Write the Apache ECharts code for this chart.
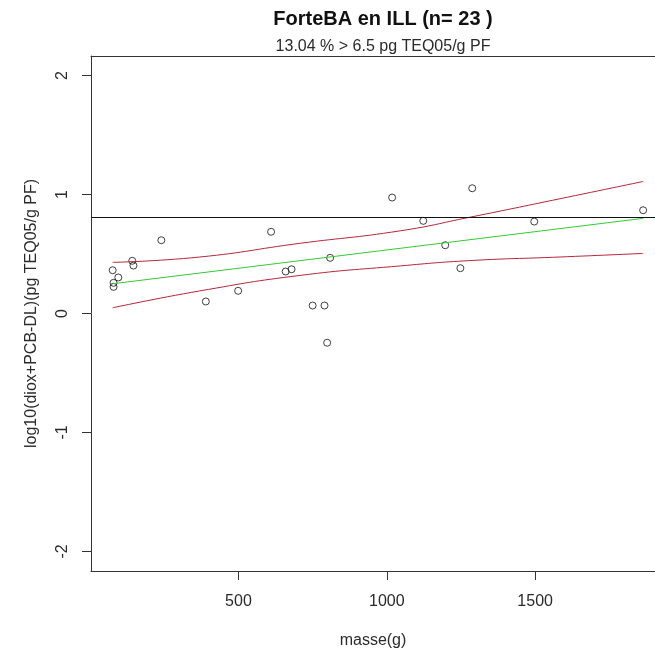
<!DOCTYPE html>
<html>
<head>
<meta charset="utf-8">
<title>ForteBA en ILL</title>
<script src="https://cdn.jsdelivr.net/npm/echarts@6/dist/echarts.min.js"></script>
<style>
  html, body { margin: 0; padding: 0; background: #fff; }
  #chart { width: 655px; height: 657px; }
</style>
</head>
<body>
<div id="chart"></div>
<script>
// observations : masse (g) et log10 de la teneur
var masse = [76, 79, 79, 95, 142, 146, 240, 390, 499, 610, 659, 679, 750, 790, 799, 809, 1018, 1123, 1197, 1248, 1288, 1497, 1864];
var logVal = [0.364, 0.258, 0.224, 0.303, 0.443, 0.403, 0.616, 0.101, 0.191, 0.687, 0.353, 0.372, 0.067, 0.067, -0.246, 0.468, 0.975, 0.779, 0.574, 0.381, 1.053, 0.773, 0.868];

// droite de regression
var fitX = [76, 1864];
var fitY = [0.25, 0.80];

// bandes de confiance
var bandX = [76, 370, 707, 1045, 1281, 1584, 1864];
var bandHaut = [0.43, 0.475, 0.59, 0.695, 0.81, 0.965, 1.11];
var bandBas = [0.048, 0.19, 0.32, 0.40, 0.445, 0.475, 0.505];

var seuil = 0.813; // log10(6.5)

var xTicks = [500, 1000, 1500];
var yTicks = [-2, -1, 0, 1, 2];

function pairs(xs, ys) {
  var out = [];
  for (var i = 0; i < xs.length; i++) {
    out.push([xs[i], ys[i]]);
  }
  return out;
}

var font = "'Liberation Sans', Arial, sans-serif";
var txtColor = "#2a2a2a";
var axeColor = "#333";

var myChart = echarts.init(document.getElementById("chart"));
var option = {
  animation: false,
  backgroundColor: "#fff",
  title: [
    {
      text: "ForteBA en ILL (n= 23 )",
      left: 378,
      top: 4,
      textAlign: "center",
      textStyle: { fontFamily: font, fontSize: 20, fontWeight: "bold", color: "#111" }
    },
    {
      text: "13.04 % > 6.5 pg TEQ05/g PF",
      left: 378,
      top: 34,
      textAlign: "center",
      textStyle: { fontFamily: font, fontSize: 16, fontWeight: "normal", color: txtColor }
    }
  ],
  grid: {
    left: 91,
    top: 56,
    right: 0,
    bottom: 86,
    show: false
  },
  xAxis: [
    {
      type: "value",
      min: 3,
      max: 1904,
      name: "masse(g)",
      nameLocation: "middle",
      nameGap: 62,
      nameTextStyle: { fontFamily: font, fontSize: 16, color: txtColor },
      axisLine: { show: true, onZero: false, lineStyle: { color: axeColor } },
      axisTick: { show: true, length: 9, customValues: xTicks, lineStyle: { color: axeColor } },
      axisLabel: {
        customValues: xTicks,
        margin: 23,
        fontFamily: font,
        fontSize: 16,
        color: txtColor,
        formatter: function (v) { return String(v); }
      },
      splitLine: { show: false }
    },
    {
      // bord superieur du cadre
      type: "value",
      position: "top",
      min: 3,
      max: 1904,
      axisLine: { show: true, onZero: false, lineStyle: { color: axeColor } },
      axisTick: { show: false },
      axisLabel: { show: false },
      splitLine: { show: false }
    }
  ],
  yAxis: {
    type: "value",
    min: -2.165,
    max: 2.165,
    name: "log10(diox+PCB-DL)(pg TEQ05/g PF)",
    nameLocation: "middle",
    nameRotate: 90,
    nameGap: 51,
    nameTextStyle: { fontFamily: font, fontSize: 16, color: txtColor },
    axisLine: { show: true, onZero: false, lineStyle: { color: axeColor } },
    axisTick: { show: true, length: 9, customValues: yTicks, lineStyle: { color: axeColor } },
    axisLabel: { customValues: yTicks, rotate: 90, margin: 20, fontFamily: font, fontSize: 16, color: txtColor },
    splitLine: { show: false }
  },
  series: [
    {
      name: "points",
      type: "scatter",
      symbol: "circle",
      symbolSize: 7,
      itemStyle: { color: "rgba(255,255,255,0)", borderColor: "#111", borderWidth: 1 },
      data: pairs(masse, logVal),
      markLine: {
        silent: true,
        symbol: ["none", "none"],
        label: { show: false },
        lineStyle: { color: "#111", type: "solid", width: 1 },
        data: [{ yAxis: seuil }]
      }
    },
    {
      name: "fit",
      type: "line",
      showSymbol: false,
      lineStyle: { color: "#33cc33", width: 1 },
      data: pairs(fitX, fitY)
    },
    {
      name: "haut",
      type: "line",
      smooth: true,
      showSymbol: false,
      lineStyle: { color: "#b5283a", width: 1 },
      data: pairs(bandX, bandHaut)
    },
    {
      name: "bas",
      type: "line",
      smooth: true,
      showSymbol: false,
      lineStyle: { color: "#b5283a", width: 1 },
      data: pairs(bandX, bandBas)
    }
  ]
};
myChart.setOption(option);
</script>
</body>
</html>
